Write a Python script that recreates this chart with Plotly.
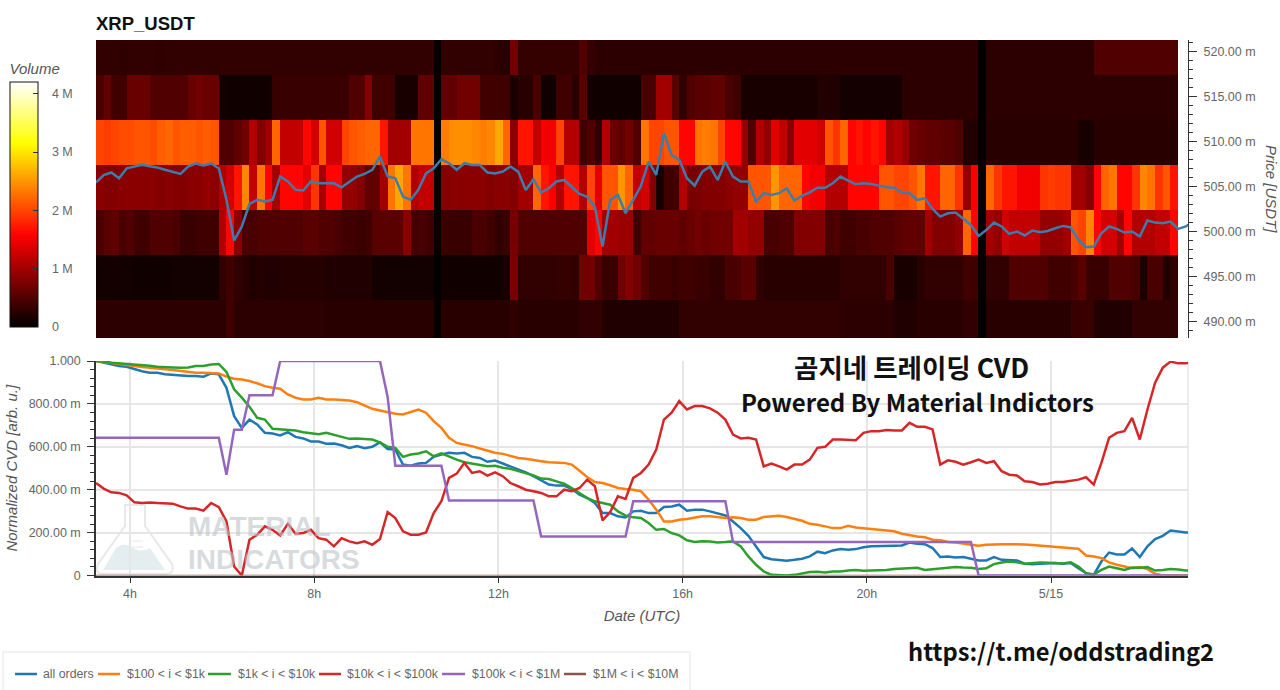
import pandas as pd
import plotly.graph_objects as go

W, H = 1280, 690

# time bases (10 min candles)
times = pd.date_range("2022-05-14 03:15:40", periods=144, freq="10min")
heat_times = pd.date_range("2022-05-14 03:20:40", periods=141, freq="10min")

price_levels = [489.9, 494.9, 499.9, 504.9, 509.9, 514.9, 519.9]

# volume per price level, in millions, one value per column
vol_490 = [
    .27, .27, .27, .27, .27, .27, .27, .27, .27, .27,
    .27, .27, .27, .27, .27, .27, .27, .38, .27, .27,
    .27, .27, .27, .27, .27, .27, .27, .27, .27, .27,
    .25, .25, .25, .25, .25, .25, .25, .25, .25, .25,
    .25, .25, .25, .25, .03, .25, .25, .25, .25, .25,
    .25, .25, .25, .25, .30, .25, .25, .25, .25, .25,
    .25, .25, .25, .30, .30, .30, .20, .20, .20, .20,
    .20, .20, .20, .20, .20, .20, .30, .30, .30, .30,
    .30, .30, .30, .30, .30, .30, .30, .30, .30, .30,
    .30, .30, .30, .30, .30, .30, .30, .27, .27, .27,
    .27, .27, .27, .27, .20, .20, .20, .25, .25, .25,
    .25, .25, .25, .30, .30, .03, .25, .25, .25, .25,
    .25, .25, .25, .25, .25, .25, .25, .35, .35, .35,
    .20, .20, .20, .20, .20, .30, .30, .30, .30, .30,
    .30]
vol_495 = [
    .12, .12, .13, .12, .12, .10, .10, .10, .10, .10,
    .12, .12, .12, .12, .12, .12, .30, .40, .30, .25,
    .20, .22, .20, .20, .22, .22, .22, .22, .22, .22,
    .20, .20, .20, .20, .20, .20, .12, .12, .12, .12,
    .12, .12, .12, .12, .03, .10, .10, .10, .10, .10,
    .10, .10, .10, .15, .75, .30, .30, .30, .30, .30,
    .32, .32, .30, .70, .70, .50, .35, .35, .70, .80,
    .70, .50, .40, .40, .40, .35, .40, .40, .35, .35,
    .30, .30, .45, .45, .55, .55, .30, .25, .25, .25,
    .25, .25, .25, .25, .25, .25, .25, .30, .30, .30,
    .30, .30, .30, .45, .15, .15, .15, .25, .30, .30,
    .30, .30, .30, .40, .40, .03, .30, .30, .30, .50,
    .50, .50, .50, .50, .40, .40, .40, .45, .55, .35,
    .35, .35, .50, .50, .50, .45, .15, .45, .45, .20,
    .30]
vol_500 = [
    .45, .55, .60, .45, .50, .40, .40, .50, .50, .50,
    .45, .35, .35, .40, .40, .40, 1.1, 1.6, .85, .45,
    .45, .50, .50, .50, .50, .50, .50, .55, .55, .50,
    .50, .45, .40, .40, .35, .40, .55, .55, .55, .55,
    .85, .40, .45, .40, .04, .35, .35, .35, .35, .45,
    .45, .40, .30, .35, .75, .50, .50, .50, .50, .50,
    .50, .50, .50, .50, 1.4, 1.6, 1.0, 1.0, .95, .95,
    .40, .60, .60, .65, .65, .65, .60, .65, .70, .65,
    .70, .70, .70, 1.0, 1.0, .90, .90, .45, .45, .50,
    .50, .80, .80, .80, .80, .45, .50, .40, .40, .45,
    .45, .50, .50, .50, .55, .60, .60, .60, 1.0, .80,
    .80, .80, .90, 2.2, 1.6, .04, 1.0, .90, 1.3, 1.2,
    1.2, 1.2, 1.2, .90, .90, .90, 1.0, 2.1, 2.0, 2.4,
    1.6, 1.3, 1.3, 1.0, 1.6, 1.1, 1.1, 1.1, 1.2, 1.2,
    1.6]
vol_505 = [
    .85, .80, .80, .85, .85, .85, .85, .85, .80, .85,
    .80, .80, .85, .85, .90, .85, 1.1, 1.3, 1.7, 2.4,
    1.2, 2.3, 1.6, 1.0, 1.6, 1.6, 1.6, 1.4, 1.9, 1.0,
    1.6, 1.6, .90, .90, .80, .60, .60, 1.0, 2.3, 2.6,
    2.3, 1.1, 1.2, 1.2, .04, .80, .85, .85, .85, .85,
    .85, .80, .85, .85, .80, 1.0, 1.0, 2.2, 1.7, 1.55,
    1.1, 1.7, 1.7, 1.1, 2.0, 1.4, 2.1, 2.1, 2.5, 2.2,
    1.2, 1.3, .80, .15, .40, .40, 1.1, .75, .75, .80,
    .80, .80, .85, .90, .90, 2.1, 2.1, 2.1, 2.5, 2.2,
    2.2, 2.2, 1.6, 1.5, 1.5, 1.1, 1.1, 1.1, 1.6, 1.6,
    1.6, 1.6, 2.1, 2.1, 2.0, 2.0, 2.1, 2.3, 1.7, 1.7,
    2.2, 2.2, 1.9, .90, 1.55, .04, 2.2, 1.9, 1.7, 1.7,
    1.5, 1.5, 1.5, 1.9, 1.95, 1.9, 1.9, 1.0, 1.0, .80,
    1.6, 2.2, 2.3, 1.6, 1.6, 1.9, 2.4, 2.3, 1.9, 2.1,
    1.7]
vol_510 = [
    2.0, 1.95, 2.0, 2.05, 2.05, 2.1, 2.1, 2.05, 2.15, 2.2,
    2.1, 2.15, 2.15, 2.1, 2.15, 2.1, .50, .50, .60, .70,
    1.1, .80, 1.0, 2.2, 1.2, 1.2, 1.2, 1.6, 1.3, 2.1,
    1.3, 1.3, 2.0, 2.1, 2.15, 2.2, 2.2, 1.7, 1.0, 1.0,
    1.0, 2.3, 2.3, 2.3, .04, 2.35, 2.45, 2.45, 2.45, 2.4,
    2.35, 2.4, 2.6, 2.2, .85, 1.7, 1.7, 1.2, 1.5, 1.5,
    2.0, 1.1, 1.1, .40, .50, .30, 1.1, .65, .60, .70,
    .50, 2.3, 2.0, 2.0, 2.1, 2.1, 1.6, 1.6, 2.3, 2.35,
    2.3, 2.0, 1.6, 1.6, .90, .50, 1.1, .90, 1.4, 1.2,
    .80, 1.4, 1.4, 1.4, 1.3, 2.1, 1.9, 2.2, 1.6, 1.7,
    1.6, 1.7, 1.6, 1.0, 1.1, .95, .70, .65, .60, .60,
    .55, .55, .50, .20, .20, .04, .25, .25, .25, .25,
    .25, .25, .25, .25, .25, .25, .25, .25, .15, .15,
    .25, .25, .25, .25, .25, .25, .25, .25, .25, .25,
    .25]
vol_515 = [
    .45, .60, .40, .40, .65, .65, .65, .50, .50, .50,
    .50, .50, .65, .70, .65, .65, .12, .10, .10, .10,
    .10, .10, .10, .35, .35, .35, .35, .35, .35, .35,
    .35, .35, .35, .50, .50, .80, .40, .40, .40, .15,
    .15, .15, .60, .60, .04, .60, .60, .70, .70, .70,
    .40, .40, .40, .40, .15, .25, .25, .45, .10, .10,
    .40, .40, .25, .55, .10, .10, .10, .10, .10, .10,
    .10, .45, .45, 1.0, 1.0, .55, .30, .50, .55, .55,
    .60, .60, .45, .40, .15, .15, .15, .15, .15, .15,
    .15, .15, .15, .15, .20, .20, .20, .13, .13, .13,
    .13, .13, .13, .13, .13, .28, .28, .28, .28, .28,
    .28, .28, .28, .28, .28, .03, .28, .28, .28, .28,
    .28, .28, .28, .28, .28, .28, .28, .28, .28, .28,
    .28, .28, .28, .28, .28, .28, .28, .28, .28, .28,
    .28]
vol_520 = [
    .30, .30, .30, .29, .30, .30, .30, .30, .29, .30,
    .30, .30, .30, .30, .30, .30, .30, .30, .30, .30,
    .30, .30, .30, .30, .30, .30, .30, .30, .30, .30,
    .30, .30, .30, .30, .30, .30, .30, .30, .30, .30,
    .30, .30, .30, .30, .04, .30, .30, .30, .30, .30,
    .30, .30, .28, .25, .70, .32, .32, .32, .32, .32,
    .32, .32, .32, .50, .32, .28, .28, .28, .28, .28,
    .28, .28, .28, .28, .28, .28, .28, .28, .28, .28,
    .28, .28, .28, .28, .28, .28, .28, .28, .28, .28,
    .28, .28, .28, .28, .28, .28, .28, .28, .28, .28,
    .28, .28, .28, .28, .28, .28, .28, .28, .28, .28,
    .28, .28, .28, .28, .28, .03, .28, .28, .28, .28,
    .28, .28, .28, .28, .28, .28, .28, .28, .28, .28,
    .50, .50, .50, .50, .50, .50, .50, .50, .50, .50,
    .50]

# mid price in milli USDT
price = [
    505.48, 506.3, 506.6, 505.96, 507.07, 507.3, 507.45, 507.3, 507.15, 506.9, 506.7, 506.45,
    507.26, 507.6, 507.37, 507.6, 507.07, 503.56, 499.04, 500.6, 503.1, 503.56, 503.37, 503.56,
    506.15, 505.6, 504.67, 504.6, 505.6, 505.4, 505.4, 505.4, 504.96, 505.6, 506.15, 506.45,
    506.9, 508.37, 506.15, 505.96, 503.93, 503.56, 504.67, 506.5, 507.07, 508.07, 507.63, 506.9,
    507.63, 507.44, 507.44, 506.6, 506.5, 506.7, 507.26, 506.7, 504.66, 505.85, 504.37, 504.85,
    505.6, 505.77, 505.04, 504.22, 503.9, 502.8, 498.37, 503.55, 504.1, 502.07, 503.55, 505.1,
    507.8, 506.33, 510.96, 508.55, 508.0, 505.96, 505.14, 506.7, 507.26, 505.77, 507.8, 506.15,
    505.6, 505.6, 503.37, 504.3, 504.1, 504.3, 504.85, 503.48, 504.0, 504.4, 504.9, 504.9,
    505.4, 506.15, 505.7, 505.3, 505.4, 505.33, 505.14, 504.96, 504.9, 504.37, 504.3, 503.55,
    503.74, 502.55, 501.7, 502.07, 502.15, 501.5, 500.77, 499.55, 500.2, 501.03, 500.6, 499.77,
    500.04, 499.6, 500.15, 499.96, 500.1, 500.4, 500.66, 500.5, 499.1, 498.3, 498.37, 499.85,
    500.6, 500.33, 499.92, 500.04, 499.48, 501.26, 501.03, 500.96, 501.15, 500.33, 500.6, 501.15]

cvd_all = [
    1.0, .992, .984, .977, .973, .961, .952, .945, .945, .938, .935, .933,
    .930, .930, .927, .942, .938, .875, .743, .688, .727, .704, .665, .662,
    .653, .668, .646, .639, .625, .625, .614, .615, .607, .595, .603, .593,
    .600, .621, .590, .587, .517, .512, .522, .525, .553, .564, .572, .569,
    .572, .553, .548, .530, .536, .522, .509, .497, .481, .463, .442, .424,
    .419, .419, .403, .377, .361, .338, .291, .291, .276, .271, .299, .302,
    .291, .291, .319, .322, .330, .302, .307, .307, .299, .291, .280, .252,
    .221, .185, .136, .086, .076, .073, .069, .073, .078, .089, .111, .104,
    .117, .123, .120, .123, .132, .136, .136, .139, .139, .140, .154, .148,
    .146, .128, .086, .089, .084, .086, .079, .070, .070, .086, .073, .073,
    .070, .055, .053, .055, .058, .058, .055, .058, .034, .011, .003, .065,
    .107, .098, .098, .126, .086, .136, .170, .185, .210, .206, .201, .201]
cvd_100_1k = [
    1.0, .995, .989, .984, .981, .977, .972, .969, .964, .961, .958, .953,
    .949, .945, .945, .942, .942, .927, .917, .914, .907, .896, .883, .875,
    .871, .844, .829, .821, .821, .829, .821, .821, .818, .816, .808, .793,
    .777, .769, .762, .754, .751, .762, .774, .759, .720, .688, .642, .618,
    .611, .603, .592, .583, .572, .567, .556, .548, .544, .537, .533, .528,
    .525, .525, .517, .486, .459, .436, .431, .421, .408, .403, .400, .393,
    .354, .307, .252, .252, .260, .263, .271, .276, .276, .273, .268, .271,
    .268, .260, .260, .273, .276, .279, .273, .265, .255, .241, .237, .229,
    .221, .221, .232, .224, .221, .217, .213, .209, .206, .195, .188, .182,
    .178, .167, .164, .156, .154, .148, .143, .139, .143, .146, .146, .146,
    .146, .145, .142, .139, .139, .136, .131, .128, .125, .093, .089, .081,
    .061, .050, .042, .034, .039, .030, .008, 0, 0, 0, 0, 0]
cvd_1k_10k = [
    1.0, .998, .992, .989, .989, .984, .981, .978, .973, .973, .970, .969,
    .970, .977, .977, .984, .986, .949, .868, .829, .787, .735, .727, .684,
    .681, .676, .676, .668, .662, .659, .665, .656, .646, .637, .639, .637,
    .634, .621, .600, .595, .553, .564, .569, .579, .556, .569, .553, .540,
    .528, .522, .517, .509, .512, .502, .497, .486, .478, .467, .452, .450,
    .439, .428, .408, .385, .361, .346, .338, .330, .299, .279, .271, .268,
    .245, .213, .217, .198, .187, .164, .156, .160, .159, .154, .156, .159,
    .136, .089, .050, .019, .003, .002, 0, .003, .009, .016, .017, .014,
    .019, .019, .023, .026, .022, .023, .025, .026, .030, .033, .034, .036,
    .026, .030, .034, .036, .040, .037, .036, .030, .034, .053, .061, .065,
    .062, .055, .058, .061, .059, .058, .056, .062, .042, .011, .005, .026,
    .042, .034, .026, .037, .036, .039, .023, .026, .030, .028, .023, .023]
cvd_10k_100k = [
    .431, .405, .388, .385, .374, .341, .338, .340, .338, .335, .335, .322,
    .312, .312, .302, .338, .319, .252, .042, 0, .167, .190, .229, .213,
    .187, .241, .195, .198, .213, .174, .167, .136, .174, .159, .151, .159,
    .143, .170, .296, .268, .206, .190, .190, .201, .291, .346, .455, .475,
    .525, .478, .486, .466, .481, .463, .431, .416, .400, .393, .385, .369,
    .369, .400, .393, .408, .447, .416, .257, .296, .369, .357, .455, .478,
    .517, .587, .727, .759, .813, .774, .790, .790, .779, .759, .727, .657,
    .639, .642, .634, .509, .522, .509, .494, .517, .517, .540, .595, .600,
    .634, .634, .634, .631, .665, .673, .673, .678, .676, .676, .712, .693,
    .693, .681, .517, .537, .530, .517, .528, .540, .525, .533, .486, .470,
    .466, .439, .436, .424, .428, .436, .436, .442, .447, .458, .424, .525,
    .642, .665, .673, .735, .634, .774, .899, .969, .997, .989, .989, .995]
cvd_100k_1m = [
    .642, .642, .642, .642, .642, .642, .642, .642, .642, .642, .642, .642,
    .642, .642, .642, .642, .642, .470, .680, .680, .840, .840, .840, .840,
    1.0, 1.0, 1.0, 1.0, 1.0, 1.0, 1.0, 1.0, 1.0, 1.0, 1.0, 1.0,
    1.0, 1.0, .832, .512, .512, .512, .512, .512, .512, .512, .350, .350,
    .350, .350, .350, .350, .350, .350, .350, .350, .350, .350, .182, .182,
    .182, .182, .182, .182, .182, .182, .182, .182, .182, .182, .346, .346,
    .346, .346, .346, .346, .346, .346, .346, .346, .346, .346, .346, .156,
    .156, .156, .156, .156, .156, .156, .156, .156, .156, .156, .156, .156,
    .156, .156, .156, .156, .156, .156, .156, .156, .156, .156, .156, .156,
    .156, .156, .156, .156, .156, .156, .156, 0, 0, 0, 0, 0,
    0, 0, 0, 0, 0, 0, 0, 0, 0, 0, 0, 0,
    0, 0, 0, 0, 0, 0, 0, 0, 0, 0, 0, 0]
cvd_1m_10m = [
    0, 0, 0, 0, 0, 0, 0, 0, 0, 0, 0, 0,
    0, 0, 0, 0, 0, 0, 0, 0, 0, 0, 0, 0,
    0, 0, 0, 0, 0, 0, 0, 0, 0, 0, 0, 0,
    0, 0, 0, 0, 0, 0, 0, 0, 0, 0, 0, 0,
    0, 0, 0, 0, 0, 0, 0, 0, 0, 0, 0, 0,
    0, 0, 0, 0, 0, 0, 0, 0, 0, 0, 0, 0,
    0, 0, 0, 0, 0, 0, 0, 0, 0, 0, 0, 0,
    0, 0, 0, 0, 0, 0, 0, 0, 0, 0, 0, 0,
    0, 0, 0, 0, 0, 0, 0, 0, 0, 0, 0, 0,
    0, 0, 0, 0, 0, 0, 0, 0, 0, 0, 0, 0,
    0, 0, 0, 0, 0, 0, 0, 0, 0, 0, 0, 0,
    0, 0, 0, 0, 0, 0, 0, 0, 0, 0, 0, 0]

series_names = ["all orders", "$100 < i < $1k", "$1k < i < $10k", "$10k < i < $100k", "$100k < i < $1M", "$1M < i < $10M"]
series_values = [cvd_all, cvd_100_1k, cvd_1k_10k, cvd_10k_100k, cvd_100k_1m, cvd_1m_10m]
series_colors = ["#1f77b4", "#ff7f0e", "#2ca02c", "#d62728", "#9467bd", "#8c564b"]
series_widths = [2.5, 2.5, 2.5, 2.5, 2.5, 1.5]

date_ticks = ["2022-05-14 04:00", "2022-05-14 08:00", "2022-05-14 12:00", "2022-05-14 16:00", "2022-05-14 20:00", "2022-05-15 00:00"]
date_labels = ["4h", "8h", "12h", "16h", "20h", "5/15"]
price_ticks = [490, 495, 500, 505, 510, 515, 520]
price_labels = ["490.00 m", "495.00 m", "500.00 m", "505.00 m", "510.00 m", "515.00 m", "520.00 m"]
cvd_ticks = [0, .2, .4, .6, .8, 1]
cvd_labels = ["0", "200.00 m", "400.00 m", "600.00 m", "800.00 m", "1.000"]
vol_ticks = [0, 1, 2, 3, 4]
# the nbsp push the labels away from the bar
vol_labels = ["\u00a0\u00a0\u00a00", "\u00a0\u00a0\u00a01 M", "\u00a0\u00a0\u00a02 M", "\u00a0\u00a0\u00a03 M", "\u00a0\u00a0\u00a04 M"]

# legend layout in pixels: line start, line end, text start
legend_slots = [(15, 37, 41), (98, 120, 125), (208, 231, 236), (319, 341, 345), (442, 465, 470), (564, 586, 591)]


def px(x):
    return x / W


def py(y):
    return 1 - y / H


def note(text, x, y, size, color, family="Noto Sans CJK KR", anchor="center", angle=0, style="normal"):
    return dict(text=text, x=px(x), y=py(y), xref="paper", yref="paper", xanchor=anchor, yanchor="middle",
                showarrow=False, textangle=angle, font=dict(family=family, size=size, color=color, style=style))


FONT = "Liberation Sans"
GRAY = "#666666"
AXIS = "#333333"
TITLE_GRAY = "#555555"
WATERMARK = "rgba(190,195,200,0.6)"
GRID = "#e6e6e6"

fig = go.Figure()

# Volume heatmap
fig.add_trace(go.Heatmap(
    x=heat_times, y=price_levels,
    z=[vol_490, vol_495, vol_500, vol_505, vol_510, vol_515, vol_520],
    zmin=0, zmax=4.2,
    colorscale=[[0, "#000000"], [0.375, "#ff0000"], [0.75, "#ffff00"], [1, "#ffffff"]],
    colorbar=dict(
        x=px(10), xanchor="left", y=py(60), yanchor="top",
        lenmode="pixels", len=267, thicknessmode="pixels", thickness=28,
        xpad=0, ypad=0, outlinecolor="#111111", outlinewidth=1,
        tickmode="array", tickvals=vol_ticks, ticktext=vol_labels,
        ticks="inside", ticklen=5, tickcolor="#333333",
        tickfont=dict(family=FONT, size=12.5, color=GRAY),
        title=dict(text="Volume", side="top", font=dict(family=FONT, size=15, color=TITLE_GRAY, style="italic")),
    ),
    showlegend=False, xaxis="x", yaxis="y",
))

fig.add_trace(go.Scatter(
    x=times, y=price, mode="lines", line=dict(color="#3d7cab", width=2.5),
    showlegend=False, xaxis="x", yaxis="y",
))

# CVD lines, the flat $1M one goes first so that purple stays on top of it
for i in [5, 0, 1, 2, 3, 4]:
    fig.add_trace(go.Scatter(
        x=times, y=series_values[i], mode="lines", name=series_names[i], showlegend=False,
        line=dict(color=series_colors[i], width=series_widths[i]),
        xaxis="x2", yaxis="y2",
    ))

# Flask of the watermark
flask = "M {} {} L {} {} L {} {} L {} {} Q {} {} {} {} L {} {} Q {} {} {} {} L {} {} Z".format(
    px(125), py(505), px(145), py(505), px(145), py(526), px(172), py(564),
    px(175), py(574), px(166), py(574), px(103), py(574), px(94), py(574), px(98), py(564),
    px(125), py(526))
liquid = "M {} {} L {} {} Q {} {} {} {} Q {} {} {} {} L {} {} Z".format(
    px(103), py(570), px(116), py(548), px(124), py(541), px(133), py(548),
    px(142), py(553), px(150), py(548), px(165), py(570))
marks = ""
for y in [541, 547, 553, 559]:
    marks += "M {} {} L {} {} ".format(px(130), py(y), px(143), py(y))

shapes = [
    dict(type="line", xref="paper", yref="paper", x0=px(1188), x1=px(1188), y0=py(575.5), y1=py(361),
         line=dict(color=GRID, width=1.5), layer="below"),
    dict(type="path", xref="paper", yref="paper", path=liquid, fillcolor="#e4eef0",
         line=dict(width=0), layer="below"),
    dict(type="path", xref="paper", yref="paper", path=flask, line=dict(color="#e8e8e8", width=2), layer="below"),
    dict(type="path", xref="paper", yref="paper", path=marks, line=dict(color="#e8e8e8", width=1), layer="below"),
    # legend box
    dict(type="rect", xref="paper", yref="paper", x0=px(3), x1=px(690), y0=py(652), y1=py(692),
         line=dict(color="#eeeeee", width=1.5), layer="below"),
]

annotations = [
    note("<b>MATERIAL</b>", 186, 526, 28, WATERMARK, FONT, "left"),
    note("<b>INDICATORS</b>", 186, 559, 28, WATERMARK, FONT, "left"),
    note("<b>곰지네 트레이딩 CVD</b>", 911, 366, 26.5, "#111111"),
    note("<b>Powered By Material Indictors</b>", 917, 401, 24, "#111111"),
    note("<b>https://t.me/oddstrading2</b>", 1061, 651, 23.7, "#111111"),
    note("Price [USDT]", 1271, 189, 15, TITLE_GRAY, FONT, angle=90, style="italic"),
]

# legend entries
for name, color, slot in zip(series_names, series_colors, legend_slots):
    shapes.append(dict(type="line", xref="paper", yref="paper", x0=px(slot[0]), x1=px(slot[1]),
                       y0=py(674), y1=py(674), line=dict(color=color, width=2.5)))
    annotations.append(note(name, slot[2], 674, 12.3, GRAY, FONT, "left"))

fig.update_layout(
    width=W, height=H,
    margin=dict(l=0, r=0, t=0, b=0, autoexpand=False),
    showlegend=False,
    paper_bgcolor="white", plot_bgcolor="white",
    font=dict(family=FONT, color=GRAY),
    title=dict(text="<b>XRP_USDT</b>", x=px(96), xanchor="left", y=py(24), yanchor="middle",
               font=dict(family=FONT, size=18.5, color="#111111")),
    xaxis=dict(
        domain=[px(96), px(1188)], anchor="y", visible=False,
        range=["2022-05-14 03:15:40", "2022-05-15 02:58:30"],
    ),
    yaxis=dict(
        domain=[py(338), py(40)], anchor="x", side="right", range=[488.2, 521.33],
        tickmode="array", tickvals=price_ticks, ticktext=price_labels,
        showgrid=False, zeroline=False, showline=True, linecolor=AXIS, linewidth=1,
        ticks="outside", ticklen=8, tickcolor=AXIS, ticklabelstandoff=4,
        minor=dict(ticks="outside", ticklen=4, tick0=0, dtick=1, tickcolor=AXIS, showgrid=False),
        tickfont=dict(size=12.5, color=GRAY),
    ),
    xaxis2=dict(
        domain=[px(96), px(1188)], anchor="y2",
        range=["2022-05-14 03:15:40", "2022-05-15 02:58:30"],
        tickmode="array", tickvals=date_ticks, ticktext=date_labels,
        showgrid=True, gridcolor=GRID, gridwidth=1.5, zeroline=False,
        showline=True, linecolor=AXIS, linewidth=1.5,
        ticks="outside", ticklen=6, tickcolor=AXIS, ticklabelstandoff=0,
        tickfont=dict(size=12.5, color=GRAY),
        title=dict(text="Date (UTC)", standoff=10, font=dict(size=15, color=TITLE_GRAY, style="italic")),
    ),
    yaxis2=dict(
        domain=[py(575.5), py(361)], anchor="x2", range=[0, 1],
        tickmode="array", tickvals=cvd_ticks, ticktext=cvd_labels,
        showgrid=True, gridcolor=GRID, gridwidth=1.5, zeroline=False,
        showline=True, linecolor=AXIS, linewidth=1.5,
        ticks="outside", ticklen=7, tickcolor=AXIS, ticklabelstandoff=4,
        minor=dict(ticks="outside", ticklen=4, tick0=0, dtick=0.04, tickcolor=AXIS, showgrid=False),
        tickfont=dict(size=12.5, color=GRAY),
        title=dict(text="Normalized CVD [arb. u.]", standoff=7, font=dict(size=15, color=TITLE_GRAY, style="italic")),
    ),
    shapes=shapes,
    annotations=annotations,
)

for row in [vol_490, vol_495, vol_500, vol_505, vol_510, vol_515, vol_520]:
    assert len(row) == len(heat_times)
for values in series_values + [price]:
    assert len(values) == len(times)

fig.write_html("out.html", config=dict(displayModeBar=False),
               post_script="document.body.style.margin='0';document.body.style.overflow='hidden';")
